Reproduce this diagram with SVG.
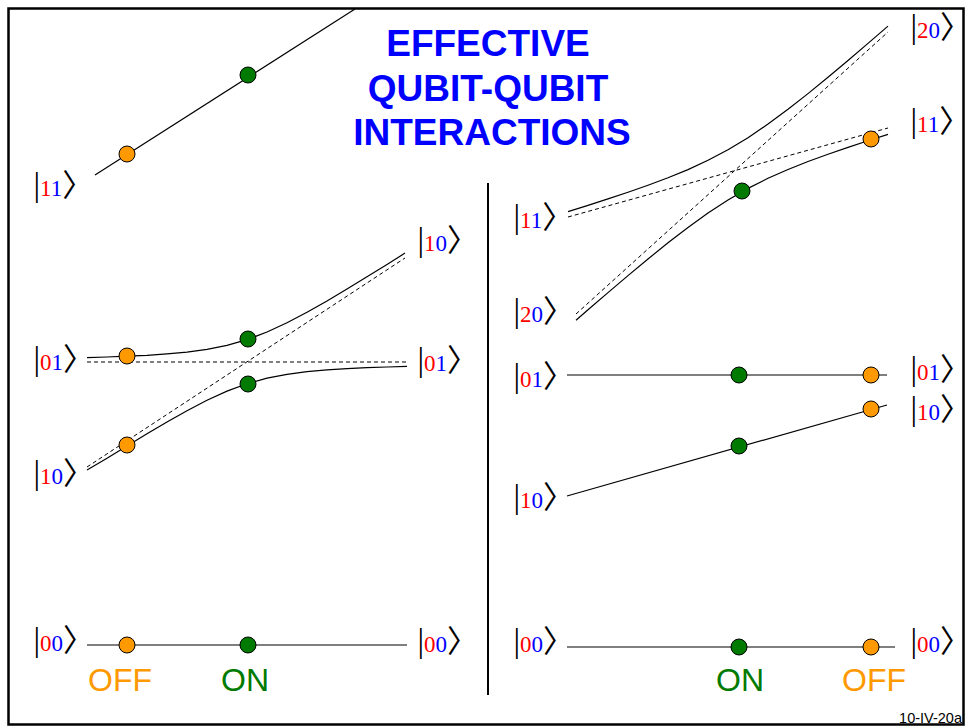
<svg xmlns="http://www.w3.org/2000/svg" width="969" height="727" viewBox="0 0 969 727">
<style>
.k{font-family:"Liberation Serif","DejaVu Serif",serif;font-size:23px}
.b{fill:#000;font-size:33px}
.a{fill:#000;font-size:31px;font-family:"Noto Sans CJK JP","Noto Sans CJK SC",sans-serif;letter-spacing:-20px}
.r{fill:#ff0000}
.u{fill:#0000ff}
.s{fill:none;stroke:#000;stroke-width:1.2}
.d{fill:none;stroke:#000;stroke-width:1;stroke-dasharray:4 3}
.off{fill:#ff9900;stroke:#000;stroke-width:1}
.on{fill:#007a00;stroke:#000;stroke-width:1}
.title{font-family:"Liberation Sans",Arial,sans-serif;font-weight:bold;font-size:37px;fill:#0000ff;text-anchor:middle}
.sw{font-family:"Liberation Sans",Arial,sans-serif;font-size:32px;text-anchor:middle}
</style>
<rect x="0" y="0" width="969" height="727" fill="#fff"/>
<rect x="8.5" y="8.5" width="955" height="716" fill="none" stroke="#000" stroke-width="2.5"/>
<g id="title">
<text class="title" x="488" y="56">EFFECTIVE</text>
<text class="title" x="488" y="101">QUBIT-QUBIT</text>
<text class="title" x="492" y="145">INTERACTIONS</text>
</g>
<line id="divider" x1="488" y1="183" x2="488" y2="695" stroke="#000" stroke-width="2"/>
<g id="connectors">
<line class="s" x1="95" y1="175" x2="355" y2="9"/>
<polyline class="s" points="87,357.6 107,357 127,356.2 147,355.3 167,353.9 187,352.1 207,349.3 227,345.4 247,339.7 267,332 287,322.7 307,312.2 327,300.9 347,289 367,276.8 387,264.4 405,253.1"/>
<polyline class="s" points="87,470 107,458.3 127,445.9 147,433.8 167,422 187,410.7 207,400.3 227,391.1 247,383.7 267,378.2 287,374.3 307,371.7 327,369.9 347,368.6 367,367.7 387,367 407,366.4"/>
<line class="d" x1="87" y1="362" x2="407" y2="362"/>
<line class="d" x1="87" y1="467" x2="405" y2="258"/>
<line class="s" x1="87" y1="645" x2="407" y2="645"/>
<polyline class="s" points="568,211.6 588,205.4 608,198.9 628,192.3 648,185.3 668,177.8 688,169.6 708,160.3 728,149.8 748,137.7 768,124.1 788,109.3 808,93.6 828,77.3 848,60.5 868,43.4 888,26.1"/>
<polyline class="s" points="576,320.2 588,309.8 608,292.6 628,275.6 648,259 668,242.8 688,227.4 708,213 728,199.9 748,188.4 768,178.3 788,169.5 808,161.5 828,154.2 848,147.4 868,140.8 888,134.4"/>
<line class="d" x1="568" y1="217" x2="888" y2="128"/>
<line class="d" x1="576" y1="314" x2="888" y2="32"/>
<line class="s" x1="567" y1="375" x2="887" y2="375"/>
<line class="s" x1="567" y1="496" x2="887" y2="405"/>
<line class="s" x1="567" y1="647" x2="895" y2="647"/>
</g>
<g id="dots-left">
<circle class="off" cx="127" cy="154" r="8"/>
<circle class="on" cx="248" cy="75" r="8"/>
<circle class="off" cx="127" cy="356" r="8"/>
<circle class="on" cx="248" cy="339" r="8"/>
<circle class="on" cx="248" cy="384" r="8"/>
<circle class="off" cx="127" cy="445" r="8"/>
<circle class="off" cx="127" cy="645" r="8"/>
<circle class="on" cx="248" cy="645" r="8"/>
</g>
<g id="dots-right">
<circle class="on" cx="742" cy="191" r="8"/>
<circle class="off" cx="871" cy="139" r="8"/>
<circle class="on" cx="739" cy="375" r="8"/>
<circle class="off" cx="871" cy="375" r="8"/>
<circle class="on" cx="739" cy="446" r="8"/>
<circle class="off" cx="871" cy="409" r="8"/>
<circle class="on" cx="739" cy="647" r="8"/>
<circle class="off" cx="871" cy="647" r="8"/>
</g>
<g id="labels-left">
<text class="k" x="33.5" y="195.5"><tspan class="b">|</tspan><tspan class="r">1</tspan><tspan class="u">1</tspan><tspan class="a">〉</tspan></text>
<text class="k" x="417.5" y="251"><tspan class="b">|</tspan><tspan class="r">1</tspan><tspan class="u">0</tspan><tspan class="a">〉</tspan></text>
<text class="k" x="33.5" y="370"><tspan class="b">|</tspan><tspan class="r">0</tspan><tspan class="u">1</tspan><tspan class="a">〉</tspan></text>
<text class="k" x="417.5" y="370.5"><tspan class="b">|</tspan><tspan class="r">0</tspan><tspan class="u">1</tspan><tspan class="a">〉</tspan></text>
<text class="k" x="33.5" y="484"><tspan class="b">|</tspan><tspan class="r">1</tspan><tspan class="u">0</tspan><tspan class="a">〉</tspan></text>
<text class="k" x="33.5" y="651"><tspan class="b">|</tspan><tspan class="r">0</tspan><tspan class="u">0</tspan><tspan class="a">〉</tspan></text>
<text class="k" x="417.5" y="652"><tspan class="b">|</tspan><tspan class="r">0</tspan><tspan class="u">0</tspan><tspan class="a">〉</tspan></text>
</g>
<g id="labels-right">
<text class="k" x="910.5" y="38"><tspan class="b">|</tspan><tspan class="r">2</tspan><tspan class="u">0</tspan><tspan class="a">〉</tspan></text>
<text class="k" x="910.5" y="132"><tspan class="b">|</tspan><tspan class="r">1</tspan><tspan class="u">1</tspan><tspan class="a">〉</tspan></text>
<text class="k" x="513.5" y="228"><tspan class="b">|</tspan><tspan class="r">1</tspan><tspan class="u">1</tspan><tspan class="a">〉</tspan></text>
<text class="k" x="513.5" y="322"><tspan class="b">|</tspan><tspan class="r">2</tspan><tspan class="u">0</tspan><tspan class="a">〉</tspan></text>
<text class="k" x="513.5" y="387"><tspan class="b">|</tspan><tspan class="r">0</tspan><tspan class="u">1</tspan><tspan class="a">〉</tspan></text>
<text class="k" x="910.5" y="380"><tspan class="b">|</tspan><tspan class="r">0</tspan><tspan class="u">1</tspan><tspan class="a">〉</tspan></text>
<text class="k" x="910.5" y="420"><tspan class="b">|</tspan><tspan class="r">1</tspan><tspan class="u">0</tspan><tspan class="a">〉</tspan></text>
<text class="k" x="513.5" y="508"><tspan class="b">|</tspan><tspan class="r">1</tspan><tspan class="u">0</tspan><tspan class="a">〉</tspan></text>
<text class="k" x="513.5" y="652"><tspan class="b">|</tspan><tspan class="r">0</tspan><tspan class="u">0</tspan><tspan class="a">〉</tspan></text>
<text class="k" x="910.5" y="652"><tspan class="b">|</tspan><tspan class="r">0</tspan><tspan class="u">0</tspan><tspan class="a">〉</tspan></text>
</g>
<g id="switch-labels">
<text class="sw" x="120" y="691" fill="#ff9900">OFF</text>
<text class="sw" x="245" y="691" fill="#007a00">ON</text>
<text class="sw" x="740" y="691" fill="#007a00">ON</text>
<text class="sw" x="874" y="691" fill="#ff9900">OFF</text>
</g>
<text id="slide-id" x="962" y="723" font-family="Liberation Sans,Arial,sans-serif" font-size="14.5" text-anchor="end" fill="#000">10-IV-20a</text>
</svg>
